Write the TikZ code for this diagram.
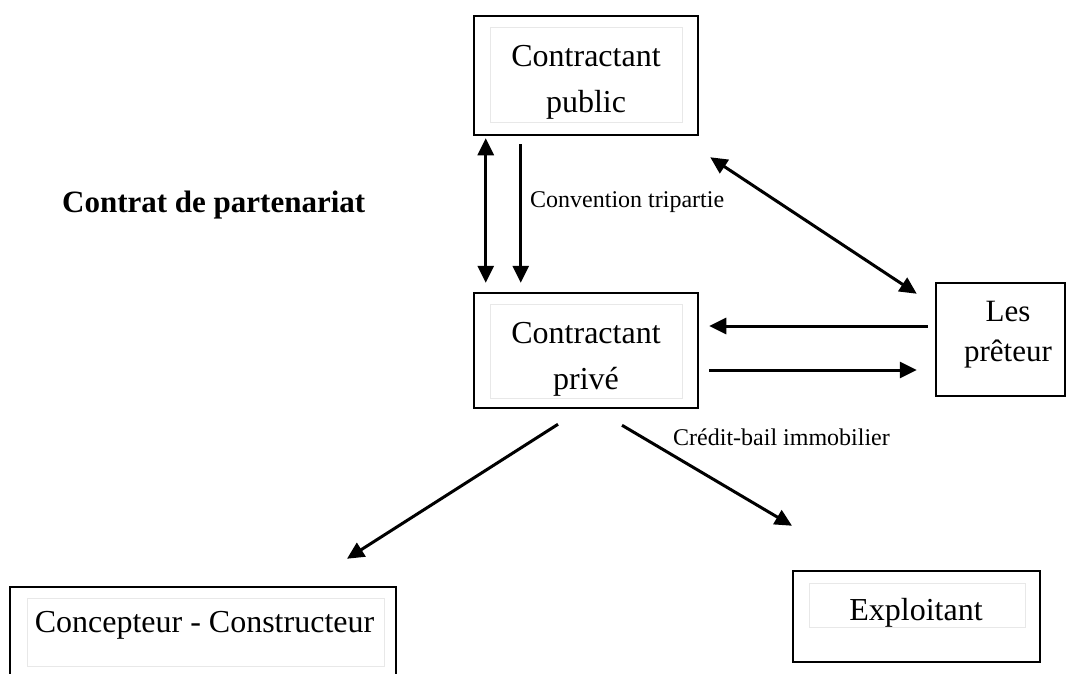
\documentclass[tikz,border=0pt]{standalone}
\usepackage{fontspec}
\setmainfont{Liberation Serif}
\usetikzlibrary{arrows.meta}
\begin{document}
\begin{tikzpicture}[x=1pt,y=-1pt,
  box/.style={draw=black,line width=2.5pt,minimum width=#1,inner sep=0pt},
  inner/.style={draw=black!9,line width=1pt,inner sep=0pt},
  btext/.style={font=\fontsize{32}{46}\selectfont,align=center,inner sep=0pt},
  small/.style={font=\fontsize{24}{28}\selectfont,inner sep=0pt,anchor=west},
  conn/.style={line width=3pt,-{Triangle[length=17pt,width=16pt]}},
  dconn/.style={line width=3pt,{Triangle[length=17pt,width=16pt]}-{Triangle[length=17pt,width=16pt]}}]
\useasboundingbox (0,0) rectangle (1066,673);
% boxes
\node[box=224pt,minimum height=119pt] (pub) at (586,75.5) {};
\node[inner,minimum width=192pt,minimum height=95pt] (pubi) at (586,74.5) {};
\node[btext] (pubt) at (586,82.5) {Contractant\\public};

\node[box=224pt,minimum height=115pt] (priv) at (586,350.5) {};
\node[inner,minimum width=192pt,minimum height=94pt] (privi) at (586,351) {};
\node[btext] (privt) at (586,359) {Contractant\\privé};

\node[box=129pt,minimum height=113pt] (pret) at (1000.5,339.5) {};
\node[btext,font=\fontsize{31}{40}\selectfont] (prett) at (1008,335) {Les\\prêteur};

\node[box=386pt,minimum height=110pt] (conc) at (203,642) {};
\node[inner,minimum width=357pt,minimum height=68pt] (conci) at (205.5,632) {};
\node[btext] (conct) at (204.5,625.6) {Concepteur - Constructeur};

\node[box=247pt,minimum height=91pt] (expl) at (916.5,616.5) {};
\node[inner,minimum width=216pt,minimum height=44pt] (expli) at (917,605) {};
\node[btext] (explt) at (916,612.6) {Exploitant};

% labels
\node[font=\fontsize{31}{36}\selectfont\bfseries,inner sep=0pt,anchor=west] (ctr) at (62,204.9) {Contrat de partenariat};
\node[small] (conv) at (530,202.5) {Convention tripartie};
\node[small] (cred) at (673,437.5) {Crédit-bail immobilier};

% connectors
\draw[dconn] ([xshift=13pt,yshift=-2pt]pub.south west) -- ([xshift=13pt,yshift=9pt]priv.north west);
\draw[conn] ([xshift=48pt,yshift=-8pt]pub.south west) -- ([xshift=48pt,yshift=9pt]priv.north west);
\draw[dconn] ([xshift=11pt,yshift=-21pt]pub.south east) -- ([xshift=-18pt,yshift=-12pt]pret.north west);
\draw[conn] ([xshift=-7pt,yshift=13.5pt]pret.west) -- ([xshift=10pt,yshift=24.5pt]priv.east);
\draw[conn] ([xshift=10pt,yshift=-19.5pt]priv.east) -- ([xshift=-18pt,yshift=-30.5pt]pret.west);
\draw[conn] ([xshift=-28pt,yshift=-15pt]priv.south) -- ([xshift=144pt,yshift=27pt]conc.north);
\draw[conn] ([xshift=36pt,yshift=-16pt]priv.south) -- ([xshift=-124.5pt,yshift=44pt]expl.north);
\end{tikzpicture}
\end{document}
